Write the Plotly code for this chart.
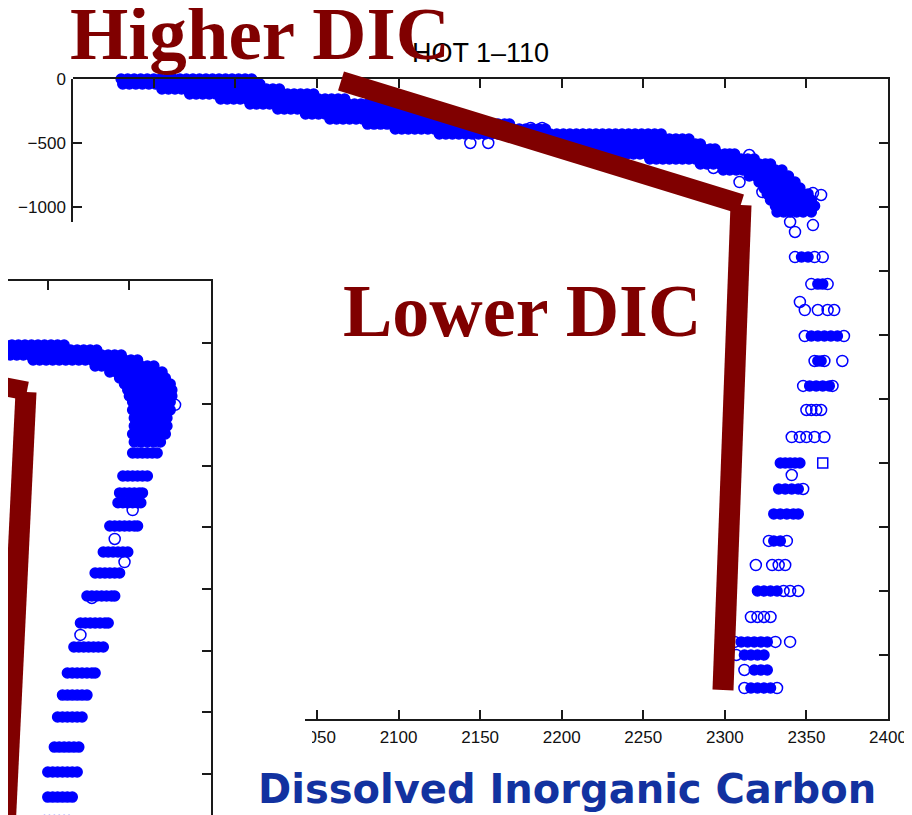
import plotly.graph_objects as go

# The page puts the figure 8 px in from the window corner, so the figure is
# 8 px smaller than the 912x815 window and every position is given in window pixels.
WIN_W, WIN_H = 912, 815
OFF = 8
W, H = WIN_W - OFF, WIN_H - OFF

# ---------------- data ----------------
# HOT 1-110 : DIC (umol/kg) vs depth (m); upper dense band given per depth level
hot_band_depth = [0, -39, -78, -117, -156, -195, -234, -273, -312, -352, -391, -430, -469,
                  -508, -547, -586, -625, -664, -711, -758, -805, -852, -898, -945, -992, -1039]
hot_band_dic = [
    [1930, 1934, 1938, 1942, 1946, 1950, 1954, 1958, 1962, 1966, 1970, 1974, 1978, 1982, 1986, 1990, 1994, 1998, 2002, 2006, 2010],
    [1931, 1935, 1939, 1943, 1947, 1951, 1955, 1959, 1963, 1967, 1971, 1975, 1979, 1983, 1987, 1991, 1995, 1999, 2003, 2007, 2011, 2015],
    [1955, 1959, 1963, 1967, 1971, 1975, 1979, 1983, 1987, 1991, 1995, 1999, 2003, 2007, 2011, 2015, 2019, 2023, 2027],
    [1972, 1976, 1980, 1984, 1988, 1992, 1996, 2000, 2004, 2008, 2012, 2016, 2020, 2024, 2028, 2032, 2036, 2040, 2044, 2048],
    [1991, 1995, 1999, 2003, 2007, 2011, 2015, 2019, 2023, 2027, 2031, 2035, 2039, 2043, 2047, 2051, 2055, 2059, 2063, 2067],
    [2009, 2013, 2017, 2021, 2025, 2029, 2033, 2037, 2041, 2045, 2049, 2053, 2057, 2061, 2065, 2069, 2073, 2077, 2081, 2085, 2089],
    [2026, 2030, 2034, 2038, 2042, 2046, 2050, 2054, 2058, 2062, 2066, 2070, 2074, 2078, 2082, 2086, 2090, 2094, 2098, 2102, 2106, 2109],
    [2043, 2047, 2051, 2055, 2059, 2063, 2067, 2071, 2075, 2079, 2083, 2087, 2091, 2095, 2099, 2103, 2107, 2111, 2115, 2119, 2123, 2127, 2130],
    [2058, 2062, 2066, 2070, 2074, 2078, 2082, 2086, 2090, 2094, 2098, 2102, 2106, 2110, 2114, 2118, 2122, 2126, 2130, 2134, 2138, 2142, 2147],
    [2081, 2085, 2089, 2093, 2097, 2101, 2105, 2109, 2113, 2117, 2121, 2125, 2129, 2133, 2137, 2141, 2145, 2149, 2153, 2157, 2161, 2165, 2168],
    [2098, 2102, 2106, 2110, 2114, 2118, 2122, 2126, 2130, 2134, 2138, 2142, 2146, 2150, 2154, 2158, 2162, 2166, 2170, 2174, 2178, 2182, 2186, 2190],
    [2125, 2129, 2133, 2137, 2141, 2145, 2149, 2153, 2157, 2161, 2165, 2169, 2173, 2177, 2181, 2185, 2189, 2193, 2197, 2201, 2205, 2209,
     2213, 2217, 2221, 2225, 2229, 2233, 2237, 2241, 2245, 2249, 2253, 2257, 2261],
    [2174, 2178, 2182, 2186, 2190, 2194, 2198, 2202, 2206, 2210, 2214, 2218, 2222, 2226, 2230, 2234, 2238, 2242, 2246, 2250, 2254, 2258,
     2262, 2266, 2270, 2274, 2278],
    [2190, 2194, 2198, 2202, 2206, 2210, 2214, 2218, 2222, 2226, 2230, 2234, 2238, 2242, 2246, 2250, 2254, 2258, 2262, 2266, 2270, 2274,
     2278, 2282, 2285],
    [2199, 2203, 2207, 2211, 2215, 2219, 2223, 2227, 2231, 2235, 2239, 2243, 2247, 2251, 2255, 2259, 2263, 2267, 2271, 2275, 2279, 2283,
     2287, 2291, 2294],
    [2208, 2212, 2216, 2220, 2224, 2228, 2232, 2236, 2240, 2244, 2248, 2252, 2256, 2260, 2264, 2268, 2272, 2276, 2280, 2284, 2288, 2292,
     2296, 2300, 2303, 2306],
    [2254, 2258, 2262, 2266, 2270, 2274, 2278, 2282, 2286, 2290, 2294, 2298, 2302, 2306, 2310, 2314, 2318],
    [2285, 2289, 2293, 2297, 2301, 2305, 2309, 2313, 2317, 2321, 2325, 2328],
    [2299, 2303, 2307, 2311, 2315, 2319, 2323, 2327, 2331, 2335],
    [2315, 2319, 2323, 2327, 2331, 2335, 2339],
    [2321, 2325, 2329, 2333, 2337, 2341, 2343],
    [2324, 2328, 2332, 2336, 2340, 2344, 2346],
    [2326, 2330, 2334, 2338, 2342, 2346, 2351],
    [2328, 2332, 2336, 2340, 2344, 2348, 2353],
    [2331, 2335, 2339, 2343, 2347, 2351, 2355],
    [2332, 2336, 2340, 2344, 2348, 2353],
]
# scattered single samples (drawn as separate open circles)
hot_open_depth = [-500, -500, -383, -383, -438, -500, -500, -500, -594, -695, -805, -883, -891, -906, -1117, -1141, -1195,
                  -1391, -1391, -1391, -1602, -1602, -1742, -1805, -1805, -1805, -1805, -2008, -2008,
                  -2203, -2203, -2203, -2398, -2398, -2586, -2586, -2586, -2586, -2797, -2797, -2797, -2797, -2797,
                  -3094, -3203, -3609, -3609, -3797, -3797, -3797, -3797, -4000, -4000, -4000,
                  -4203, -4203, -4203, -4203, -4398, -4398, -4398, -4500, -4617, -4758, -4758]
hot_open_dic = [2144, 2155, 2181, 2188, 2213, 2250, 2257, 2264, 2315, 2293, 2309, 2323, 2354, 2359, 2340, 2354, 2343,
                2343, 2355, 2360, 2353, 2363, 2346, 2349, 2357, 2363, 2367, 2349, 2373,
                2355, 2361, 2372, 2348, 2366, 2350, 2353, 2356, 2359, 2341, 2346, 2350, 2355, 2361,
                2341, 2348, 2327, 2338, 2319, 2329, 2333, 2337, 2336, 2340, 2345,
                2316, 2320, 2324, 2328, 2306, 2331, 2340, 2307, 2312, 2312, 2332]
# dense deep-water groups (overlapping samples)
hot_dense_depth = [-1391, -1602, -2008, -2203, -2398, -3000, -3203, -3398, -3609, -4000, -4398, -4500, -4617, -4758]
hot_dense_dic = [
    [2347, 2351],
    [2357, 2360],
    [2353, 2357, 2361, 2365, 2369],
    [2357, 2359],
    [2352, 2356, 2360, 2364],
    [2334, 2337, 2340, 2343, 2346],
    [2333, 2337, 2341, 2345],
    [2330, 2334, 2338, 2342, 2345],
    [2330, 2334],
    [2320, 2324, 2328, 2332],
    [2310, 2314, 2318, 2322, 2326],
    [2312, 2316, 2320, 2324],
    [2318, 2322, 2326],
    [2316, 2320, 2324, 2328],
]
hot_square_depth = [-3000]
hot_square_dic = [2360]

# second (partly hidden) profile panel
inset_depth = [-520, -560, -601, -641, -690, -739, -787, -836, -885, -933, -982, -1047, -1112, -1177, -1242, -1307,
               -1396, -1583, -1720, -1800, -1989, -2200, -2370, -2557, -2776, -2971, -3182, -3361, -3539, -3783,
               -3985, -4189, -4380]
inset_dic = [
    [2258, 2262, 2266, 2270, 2274, 2278, 2282, 2286, 2290, 2294, 2298, 2302, 2306, 2310],
    [2258, 2262, 2266, 2270, 2274, 2278, 2282, 2286, 2290, 2294, 2298, 2302, 2306, 2310, 2314, 2318, 2322, 2326, 2330],
    [2265, 2269, 2273, 2277, 2281, 2285, 2289, 2293, 2297, 2301, 2305, 2309, 2313, 2317, 2321, 2325, 2329, 2333, 2337, 2341, 2345],
    [2291, 2295, 2299, 2303, 2307, 2311, 2315, 2319, 2323, 2327, 2331, 2335, 2339, 2343, 2347, 2351, 2355],
    [2329, 2333, 2337, 2341, 2345, 2349, 2353, 2357, 2361, 2365],
    [2338, 2342, 2346, 2350, 2354, 2358, 2362, 2366, 2370],
    [2344, 2348, 2352, 2356, 2360, 2364, 2368, 2372],
    [2347, 2351, 2355, 2359, 2363, 2367, 2371, 2375],
    [2349, 2353, 2357, 2361, 2365, 2369, 2373, 2376],
    [2350, 2354, 2358, 2362, 2366, 2370, 2374, 2376],
    [2352, 2356, 2360, 2364, 2368, 2372, 2375],
    [2352, 2356, 2360, 2364, 2368, 2372, 2375],
    [2353, 2357, 2361, 2365, 2369, 2373],
    [2353, 2357, 2361, 2365, 2369, 2373],
    [2352, 2356, 2360, 2364, 2368, 2372],
    [2353, 2357, 2361, 2365, 2369],
    [2352, 2355, 2358, 2361, 2364, 2367],
    [2346, 2349, 2352, 2355, 2358, 2361],
    [2344, 2347, 2350, 2353, 2356, 2358],
    [2343, 2346, 2349, 2352, 2355, 2357],
    [2338, 2341, 2344, 2347, 2350, 2353, 2355],
    [2334, 2337, 2340, 2343, 2346, 2349],
    [2329, 2332, 2335, 2338, 2341, 2344],
    [2324, 2327, 2330, 2333, 2336, 2339, 2341],
    [2320, 2323, 2326, 2329, 2332, 2335, 2337],
    [2316, 2319, 2322, 2325, 2328, 2331, 2334],
    [2312, 2315, 2318, 2321, 2324, 2327, 2329],
    [2309, 2312, 2315, 2318, 2321, 2324],
    [2306, 2309, 2312, 2315, 2318, 2321],
    [2304, 2307, 2310, 2313, 2316, 2319],
    [2300, 2303, 2306, 2309, 2312, 2315, 2318],
    [2300, 2303, 2306, 2309, 2312, 2315],
    [2298, 2301, 2304, 2307, 2310, 2313],
]
inset_open_depth = [-1859, -2094, -2281, -2573, -2873, -1005, -1300]
inset_open_dic = [2352, 2341, 2347, 2327, 2320, 2378, 2357]

x_tickvals = [2050, 2100, 2150, 2200, 2250, 2300, 2350, 2400]
x_ticktext = ["2050", "2100", "2150", "2200", "2250", "2300", "2350", "2400"]
y_tickvals = [0, -500, -1000]
y_ticktext = ["0", "\u2212500", "\u22121000"]
title_text = "HOT 1\u2013110"
label_high = "Higher DIC"
label_low = "Lower DIC"
label_axis = "Dissolved Inorganic Carbon"


# ---------------- helpers ----------------
def flatten(depths, dics):
    xs, ys = [], []
    for d, row in zip(depths, dics):
        for v in row:
            xs.append(v)
            ys.append(d)
    return xs, ys


def px(x):  # window pixel -> paper fraction
    return (x - OFF) / W


def py(y):
    return 1 - (y - OFF) / H


BLUE = "#0000ff"
MAROON = "#800000"
AX = "#1a1a1a"
mk_open = dict(symbol="circle-open", size=11, color=BLUE, line=dict(width=1.5, color=BLUE))
mk_dense = dict(symbol="circle", size=10, color=BLUE, line=dict(width=1.5, color=BLUE))

fig = go.Figure()

bx, by = flatten(hot_band_depth, hot_band_dic)
dx, dy = flatten(hot_dense_depth, hot_dense_dic)
fig.add_trace(go.Scatter(x=bx + dx, y=by + dy, mode="markers", marker=mk_dense, xaxis="x", yaxis="y",
                         cliponaxis=False, showlegend=False, hoverinfo="skip"))
fig.add_trace(go.Scatter(x=hot_open_dic, y=hot_open_depth, mode="markers", marker=mk_open, xaxis="x", yaxis="y",
                         cliponaxis=False, showlegend=False, hoverinfo="skip"))
fig.add_trace(go.Scatter(x=hot_square_dic, y=hot_square_depth, mode="markers",
                         marker=dict(symbol="square-open", size=10, color=BLUE, line=dict(width=1.5, color=BLUE)),
                         xaxis="x", yaxis="y", cliponaxis=False, showlegend=False, hoverinfo="skip"))
ix, iy = flatten(inset_depth, inset_dic)
fig.add_trace(go.Scatter(x=ix, y=iy, mode="markers", marker=mk_dense, xaxis="x2", yaxis="y2",
                         cliponaxis=True, showlegend=False, hoverinfo="skip"))
fig.add_trace(go.Scatter(x=inset_open_dic, y=inset_open_depth, mode="markers", marker=mk_open, xaxis="x2", yaxis="y2",
                         cliponaxis=True, showlegend=False, hoverinfo="skip"))
# empty traces so that the partial axes get their own subplots
fig.add_trace(go.Scatter(x=[], y=[], xaxis="x3", yaxis="y", showlegend=False))
fig.add_trace(go.Scatter(x=[], y=[], xaxis="x", yaxis="y3", showlegend=False))

common = dict(showline=True, linecolor=AX, linewidth=1.5, ticks="inside", ticklen=9, tickwidth=1.5,
              tickcolor=AX, showgrid=False, zeroline=False, fixedrange=True, automargin=False)
tickfont = dict(family="Liberation Sans, Arial, sans-serif", size=17, color="#111111")

PX_PER_50 = 81.6          # main panel: pixels per 50 umol/kg
x_lo = 2050 - (317 - 73) * 50 / PX_PER_50
x3_lo = 2050 - (317 - 305) * 50 / PX_PER_50
inset_left = 2400 - (211 - OFF) * 50 / PX_PER_50

fig.update_layout(
    template="none",
    width=W, height=H, margin=dict(l=0, r=0, t=0, b=0, pad=0, autoexpand=False),
    paper_bgcolor="white", plot_bgcolor="rgba(0,0,0,0)", showlegend=False,
    xaxis=dict(common, domain=[px(73), px(888)], range=[x_lo, 2400], side="top", anchor="y",
               tickvals=[1950, 2000, 2050, 2100, 2150, 2200, 2250, 2300, 2350], showticklabels=False),
    yaxis=dict(common, domain=[py(719), py(79)], range=[-5000, 0], side="right", anchor="x",
               tickvals=[-500, -1000, -1500, -2000, -2500, -3000, -3500, -4000, -4500], showticklabels=False),
    xaxis3=dict(common, domain=[px(305), px(888)], range=[x3_lo, 2400], side="bottom", anchor="y",
                tickvals=x_tickvals, ticktext=x_ticktext, tickfont=tickfont, ticklabelstandoff=2),
    yaxis3=dict(common, domain=[py(222), py(79)], range=[-(222 - 79) * 500 / 64, 0], side="left", anchor="x",
                tickvals=y_tickvals, ticktext=y_ticktext, tickfont=tickfont, ticklabelstandoff=2),
    xaxis2=dict(common, domain=[0, px(211)], range=[inset_left, 2400], side="top", anchor="y2",
                tickvals=[2300, 2350], showticklabels=False),
    yaxis2=dict(common, domain=[0, py(281)], range=[-(WIN_H - 281) * 500 / 61.6, 0], side="right", anchor="x2",
                tickvals=[-500, -1000, -1500, -2000, -2500, -3000, -3500, -4000], showticklabels=False),
)

shapes = []
# maroon guide lines
for (x0, y0, x1, y1, w) in [(341, 81, 741, 204, 20), (741, 205, 723, 690, 21),
                            (-30, 380, 27, 391, 19), (26, 392, 5, 830, 21)]:
    shapes.append(dict(type="line", xref="paper", yref="paper", x0=px(x0), y0=py(y0), x1=px(x1), y1=py(y1),
                       line=dict(color=MAROON, width=w), layer="above"))
# the overlapping slide panel hides the first digit of the 2050 label
shapes.append(dict(type="rect", xref="paper", yref="paper", x0=px(288), x1=px(312), y0=py(752), y1=py(724),
                   fillcolor="white", line=dict(width=0), layer="above"))
fig.update_layout(shapes=shapes)

fig.add_annotation(text=title_text, x=px(481), y=py(53), xref="paper", yref="paper", showarrow=False,
                   xanchor="center", yanchor="middle",
                   font=dict(family="Liberation Sans, Arial, sans-serif", size=27, color="#000000"))
fig.add_annotation(text=label_high, x=px(260), y=py(34), xref="paper", yref="paper", showarrow=False,
                   xanchor="center", yanchor="middle",
                   font=dict(family="Liberation Serif, Times New Roman, serif", size=75, color=MAROON, weight="bold"))
fig.add_annotation(text=label_low, x=px(522), y=py(311), xref="paper", yref="paper", showarrow=False,
                   xanchor="center", yanchor="middle",
                   font=dict(family="Liberation Serif, Times New Roman, serif", size=74, color=MAROON, weight="bold"))
fig.add_annotation(text=label_axis, x=px(567), y=py(789), xref="paper", yref="paper", showarrow=False,
                   xanchor="center", yanchor="middle",
                   font=dict(family="Comic Sans MS, DejaVu Sans, sans-serif", size=40, color="#1232a0", weight="bold"))

fig.write_html("out.html")
